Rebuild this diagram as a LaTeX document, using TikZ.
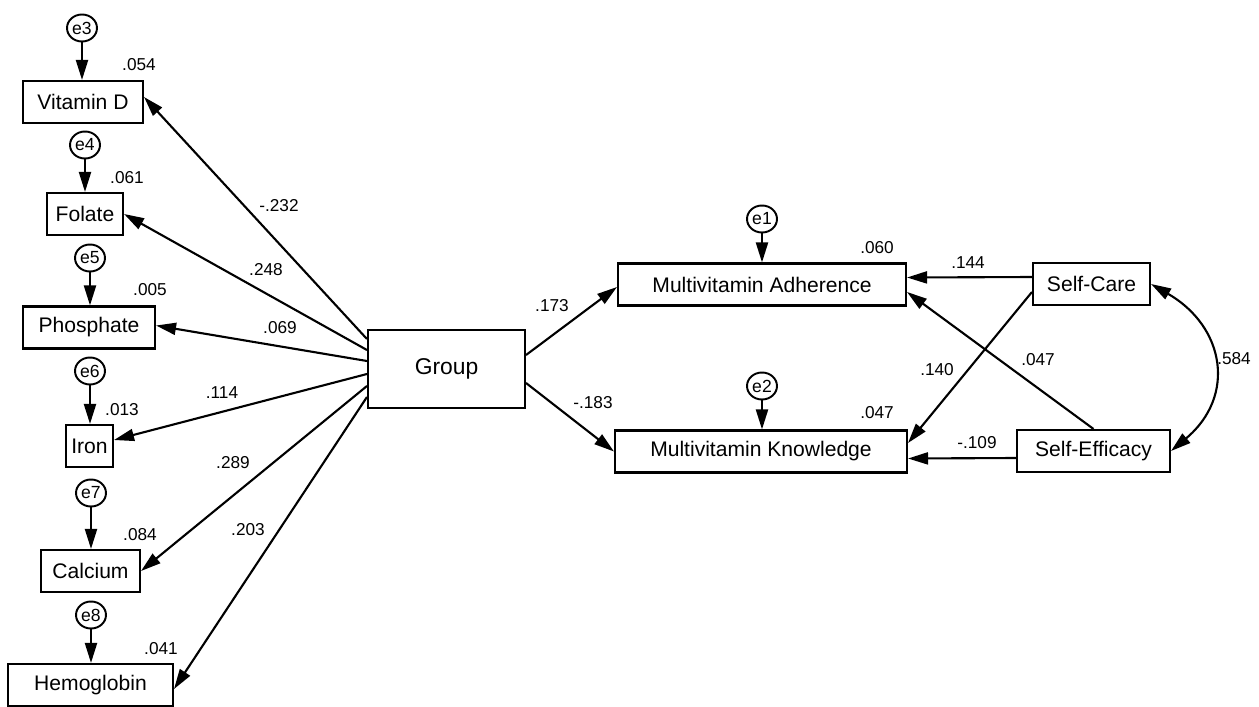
\documentclass[tikz,border=0pt]{standalone}
\usepackage{fontspec}
\setmainfont{Liberation Sans}
\usetikzlibrary{arrows.meta}
\usetikzlibrary{shapes.geometric}
\tikzset{
  varbox/.style={draw,line width=1.2pt,rectangle,minimum height=0.84cm,inner sep=0pt,font=\fontsize{12}{14}\selectfont},
  errc/.style={draw,line width=1.1pt,ellipse,minimum width=0.6cm,minimum height=0.54cm,inner sep=0pt,font=\fontsize{10}{12}\selectfont},
  coef/.style={inner sep=0pt,font=\fontsize{9.8}{11}\selectfont},
  arr/.style={->,line width=1.2pt}
}

\begin{document}
\begin{tikzpicture}[x=0.02cm,y=0.02cm,>={Triangle[length=0.4cm,width=0.24cm]}]
\useasboundingbox (0,0) rectangle (1259,-707);
% left column
\node[varbox,minimum width=2.4cm] (VitD) at (83,-102) {Vitamin D};
\node[varbox,minimum width=1.52cm] (Folate) at (85,-214) {Folate};
\node[varbox,minimum width=2.64cm] (Phos) at (89,-327.5) {Phosphate};
\node[varbox,minimum width=0.94cm] (Iron) at (89.5,-446) {Iron};
\node[varbox,minimum width=1.98cm] (Calc) at (90.5,-571) {Calcium};
\node[varbox,minimum width=3.3cm] (Hemo) at (90.5,-685) {Hemoglobin};
\node[errc] (e3) at (82,-28) {e3};
\node[errc] (e4) at (85,-145) {e4};
\node[errc] (e5) at (90,-258) {e5};
\node[errc] (e6) at (90,-371) {e6};
\node[errc] (e7) at (91,-493) {e7};
\node[errc] (e8) at (91,-615) {e8};
\draw[arr] (e3) -- (e3 |- VitD.north);
\draw[arr] (e4) -- (e4 |- Folate.north);
\draw[arr] (e5) -- (e5 |- Phos.north);
\draw[arr] (e6) -- (e6 |- Iron.north);
\draw[arr] (e7) -- (e7 |- Calc.north);
\draw[arr] (e8) -- (e8 |- Hemo.north);
\node[coef] (r3) at (139,-65) {.054};
\node[coef] (r4) at (127,-178) {.061};
\node[coef] (r5) at (150,-290) {.005};
\node[coef] (r6) at (122,-410) {.013};
\node[coef] (r7) at (140,-535) {.084};
\node[coef] (r8) at (161,-649) {.041};
% group
\node[varbox,minimum width=3.14cm,minimum height=1.56cm,font=\fontsize{13}{15}\selectfont] (Group) at (446.5,-369) {Group};
\draw[arr] ([yshift=0.6cm]Group.west) -- ([yshift=0.1cm]VitD.east);
\draw[arr] ([yshift=0.38cm]Group.west) -- (Folate.east);
\draw[arr] ([yshift=0.16cm]Group.west) -- ([yshift=0.04cm]Phos.east);
\draw[arr] ([yshift=-0.1cm]Group.west) -- ([yshift=0.12cm]Iron.east);
\draw[arr] ([yshift=-0.34cm]Group.west) -- (Calc.east);
\draw[arr] ([yshift=-0.56cm]Group.west) -- ([yshift=-0.08cm]Hemo.east);
\node[coef] (g1) at (279,-206) {-.232};
\node[coef] (g2) at (266,-270) {.248};
\node[coef] (g3) at (280,-328) {.069};
\node[coef] (g4) at (222,-393) {.114};
\node[coef] (g5) at (233,-463) {.289};
\node[coef] (g6) at (248,-530) {.203};
% outcomes
\node[varbox,minimum width=5.76cm] (MA) at (762,-284.5) {Multivitamin Adherence};
\node[varbox,minimum width=5.84cm] (MK) at (761,-451.5) {Multivitamin Knowledge};
\node[errc] (e1) at (762,-219) {e1};
\node[errc] (e2) at (762,-386) {e2};
\draw[arr] (e1) -- (e1 |- MA.north);
\draw[arr] (e2) -- (e2 |- MK.north);
\node[coef] (r1) at (877,-248) {.060};
\node[coef] (r2) at (877,-413) {.047};
\draw[arr] ([yshift=0.28cm]Group.east) -- ([yshift=-0.05cm]MA.west);
\draw[arr] ([yshift=-0.28cm]Group.east) -- (MK.west);
\node[coef] (g7) at (552,-306) {.173};
\node[coef] (g8) at (593,-403) {-.183};
% predictors
\node[varbox,minimum width=2.34cm] (Care) at (1091.5,-284) {Self-Care};
\node[varbox,minimum width=3.06cm] (Eff) at (1093.5,-451) {Self-Efficacy};
\draw[arr] ([yshift=0.14cm]Care.west) -- ([yshift=0.14cm]MA.east);
\draw[arr] ([yshift=-0.16cm]Care.west) -- ([yshift=0.17cm]MK.east);
\draw[arr] (Eff.north) -- ([yshift=-0.15cm]MA.east);
\draw[arr] ([yshift=-0.14cm]Eff.west) -- ([yshift=-0.14cm]MK.east);
\draw[<->,line width=1.2pt] (Care.east) to[out=-30,in=40,looseness=1.3] (Eff.east);
\node[coef] (p1) at (968,-263) {.144};
\node[coef] (p2) at (937,-370) {.140};
\node[coef] (p3) at (1038,-360) {.047};
\node[coef] (p4) at (977,-443) {-.109};
\node[coef] (p5) at (1234,-359) {.584};
\end{tikzpicture}
\end{document}
